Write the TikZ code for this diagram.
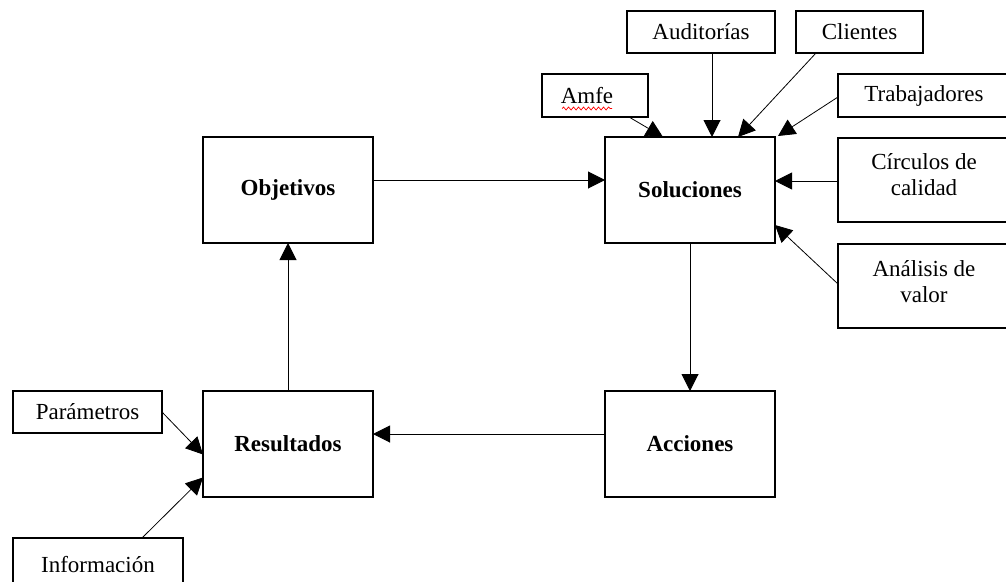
\documentclass[tikz,border=0pt]{standalone}
\usepackage{fontspec}
\setmainfont{Liberation Serif}
\usetikzlibrary{arrows.meta,decorations.pathmorphing}
\begin{document}
\begin{tikzpicture}[x=1pt,y=-1pt,
  box/.style={draw=black,line width=1.4pt,fill=white,inner sep=0pt,outer sep=0pt,
    align=center,font=\fontsize{23}{26}\selectfont},
  mainbox/.style={box,minimum width=170pt,minimum height=106pt,
    font=\fontsize{23}{26}\selectfont\bfseries},
  link/.style={line width=1pt,-{Triangle[length=17pt,width=17pt]}}]
\useasboundingbox (0,0) rectangle (1006,581);
\fill[white] (0,0) rectangle (1006,581);
\clip (0,0) rectangle (1006,581);

% central cycle
\node[mainbox] (obj) at (288,190) {Objetivos};
\node[mainbox] (sol) at (690,190) {Soluciones};
\node[mainbox] (acc) at (690,444) {Acciones};
\node[mainbox] (res) at (288,444) {Resultados};

% inputs to Soluciones
\node[box,minimum width=106pt,minimum height=43pt] (amfe) at (595,95.5) {Amfe\hspace{16pt}};
\node[box,minimum width=148pt,minimum height=42pt] (aud) at (701,32) {Auditorías};
\node[box,minimum width=127pt,minimum height=42pt] (cli) at (859.5,32) {Clientes};
\node[box,minimum width=172pt,minimum height=43pt] (tra) at (924,95.5) {Trabajadores};
\node[box,minimum width=172pt,minimum height=84pt] (cir) at (924,180) {Círculos de\\calidad\\[-16pt]};
\node[box,minimum width=172pt,minimum height=84pt] (ana) at (924,286) {Análisis de\\valor\\[-16pt]};

% inputs to Resultados
\node[box,minimum width=149pt,minimum height=42pt] (par) at (87.5,412) {Parámetros};
\node[box,minimum width=170pt,minimum height=54pt] (inf) at (98,565) {Información};

% spell-check underline under Amfe
\draw[red,line width=0.7pt,decorate,decoration={snake,amplitude=1.5pt,segment length=5pt}]
  ([xshift=-33pt,yshift=-13pt]amfe.center) -- ([xshift=17pt,yshift=-13pt]amfe.center);

% cycle connectors
\draw[link] ([yshift=10pt]obj.east) -- ([yshift=10pt]sol.west);
\draw[link] (sol.south) -- (acc.north);
\draw[link] ([yshift=10pt]acc.west) -- ([yshift=10pt]res.east);
\draw[link] (res.north) -- (obj.south);

% connectors into Soluciones
\draw[link] ([xshift=11pt]aud.south) -- ([xshift=22pt]sol.north);
\draw[link,line width=0.8pt] ([xshift=-43.5pt]cli.south) -- ([xshift=48pt]sol.north);
\draw[link,line width=0.8pt] ([xshift=34pt]amfe.south) -- ([xshift=-27pt]sol.north);
\draw[link,line width=0.8pt] ([yshift=-1.5pt]tra.west) -- ([xshift=3pt,yshift=1pt]sol.north east);
\draw[link] ([yshift=-1pt]cir.west) -- ([yshift=-1pt]cir.west -| sol.east);
\draw[link,line width=0.8pt] ([yshift=2pt]ana.west) -- ([yshift=-35pt]sol.east);

% connectors into Resultados
\draw[link,line width=0.8pt] (par.east) -- ([yshift=-10.5pt]res.west);
\draw[link,line width=0.8pt] ([xshift=44pt]inf.north) -- ([yshift=-33.5pt]res.west);
\end{tikzpicture}
\end{document}
